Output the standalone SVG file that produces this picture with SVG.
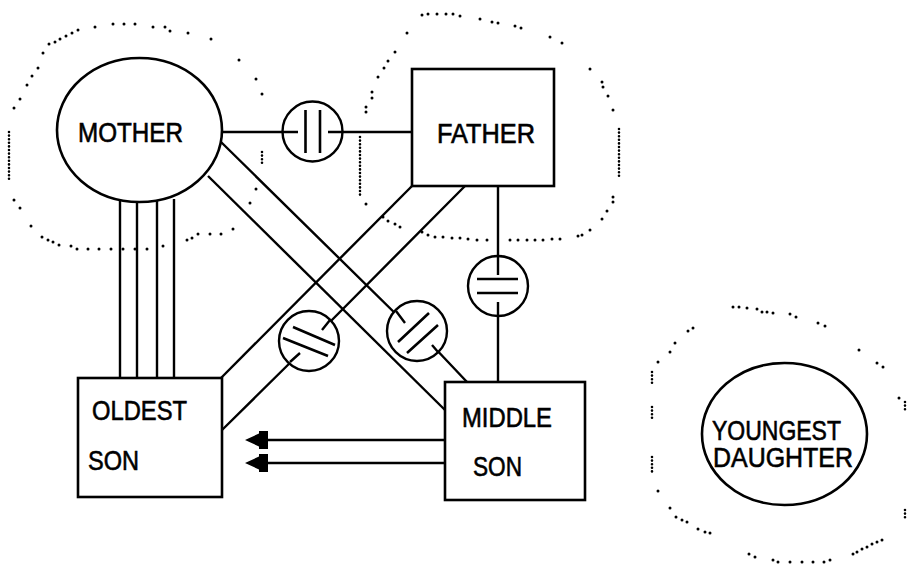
<svg xmlns="http://www.w3.org/2000/svg" width="907" height="564" viewBox="0 0 907 564">
<defs>
<style>
.shape{fill:#fff;stroke:#000;stroke-width:2.6}
.ln{fill:none;stroke:#000;stroke-width:2.4}
.cut{fill:#fff;stroke:#000;stroke-width:2.4}
.bar{stroke:#000;stroke-width:2.6;fill:none}
.lbl{font-family:"Liberation Sans","DejaVu Sans",Arial,sans-serif;font-size:27px;fill:#000;stroke:#000;stroke-width:0.6}
.dots{fill:none;stroke:#000;stroke-width:3;stroke-linecap:round}
.run{fill:none;stroke:#000;stroke-width:2.6;stroke-linecap:round;stroke-dasharray:0 3.6}
</style>
<marker id="ah" viewBox="0 0 23 18" refX="0" refY="9" markerWidth="23" markerHeight="18" markerUnits="userSpaceOnUse" orient="auto">
<path d="M23 9 L9 2.5 L9 0 L0 0 L0 18 L9 18 L9 15.5 Z" fill="#000"/>
</marker>
</defs>
<rect width="907" height="564" fill="#fff"/>

<g id="boundaries">
<path class="dots" d="M95 27h0M113 24h0M124 24h0M135 24h0M153 27h0M165 27h0M170 31h0M188 33h0M211 39h0M239 60h0M256 79h0M262 94h0M256 189h0M250 203h0M233 229h0M221 234h0M210 234h0M198 234h0M192 238h0M187 240h0M163 246h0M147 249h0M135 249h0M123 249h0M111 249h0M99 249h0M88 249h0M77 249h0M71 246h0M59 245h0M53 242h0M48 240h0M42 237h0M31 226h0M20 208h0M14 200h0M14 108h0M20 99h0M27 85h0M32 76h0M38 68h0M43 53h0M49 44h0M55 42h0M60 39h0M66 36h0M72 33h0M78 30h0"/>
<path class="run" d="M9 132V180M262 152V163"/>
<path class="dots" d="M407 33h0M422 15h0M428 14h0M437 14h0M446 14h0M453 14h0M460 16h0M480 19h0M492 22h0M498 23h0M515 26h0M521 28h0M550 37h0M562 43h0M590 69h0M602 82h0M603 87h0M608 96h0M613 110h0M613 197h0M613 202h0M607 211h0M602 219h0M590 230h0M582 235h0M578 236h0M560 239h0M552 239h0M543 240h0M535 240h0M527 240h0M518 240h0M510 240h0M487 240h0M477 240h0M468 239h0M460 238h0M452 238h0M443 237h0M435 237h0M428 235h0M422 232h0M400 227h0M395 224h0M388 221h0M383 217h0M366 204h0M366 112h0M366 107h0M372 98h0M372 92h0M378 77h0M384 68h0M388 61h0M395 52h0"/>
<path class="run" d="M619 129V177M360 137V197"/>
<path class="dots" d="M733 307h0M739 307h0M747 308h0M757 309h0M762 312h0M767 312h0M773 313h0M790 314h0M796 317h0M818 323h0M825 326h0M859 350h0M877 363h0M883 367h0M899 398h0M882 540h0M877 542h0M872 544h0M867 547h0M862 549h0M857 552h0M853 554h0M830 560h0M824 562h0M813 562h0M802 562h0M790 562h0M778 562h0M773 560h0M755 557h0M749 554h0M710 533h0M705 532h0M698 529h0M687 522h0M682 520h0M676 517h0M670 508h0M658 491h0M658 362h0M670 352h0M675 343h0M688 331h0M693 328h0"/>
<path class="run" d="M905 402V412M905 510V519M652 457V472M652 407V420M652 372V383"/>
</g>

<g id="connectors">
<!-- mother - father (cut-off) -->
<path class="ln" d="M221 132H298M328 132H412"/>
<circle class="cut" cx="312.5" cy="131.5" r="30"/>
<path class="ln" d="M282 132H298M328 132H343"/>
<path class="bar" d="M305.5 110V153M320 110V153"/>
<!-- father - middle son (cut-off) -->
<path class="ln" d="M498 186V275M498 302V382"/>
<circle class="cut" cx="498" cy="286" r="30"/>
<path class="ln" d="M498 256V275M498 302V316"/>
<path class="bar" d="M477 279H518M477 293H518"/>
<!-- mother - middle son top corner (cut-off) -->
<path class="ln" d="M221 142L405 323M432 345L467 382"/>
<!-- mother - middle son side -->
<path class="ln" d="M208 176L445 410"/>
<!-- father corner - oldest son corner -->
<path class="ln" d="M412 186L221 378"/>
<!-- father - oldest son side (cut-off) -->
<path class="ln" d="M465 186L322 330M300 353L221 431"/>
<circle class="cut" cx="417" cy="331" r="30"/>
<path class="ln" d="M396 311L405 323M432 345L438 352"/>
<path class="bar" d="M398 342L429 313M407 353L438 325"/>
<circle class="cut" cx="309" cy="341" r="30"/>
<path class="ln" d="M330 320L322 330M300 353L290 362"/>
<path class="bar" d="M293 327L335 345M283 338L328 356"/>
<!-- mother - oldest son (four lines) -->
<path class="ln" d="M120 199V378M137 200V378M157 200V378M174 199V378"/>
<!-- middle son -> oldest son arrows -->
<path class="ln" d="M445 440H268" marker-end="url(#ah)"/>
<path class="ln" d="M445 463H268" marker-end="url(#ah)"/>
</g>

<g id="mother">
<ellipse class="shape" cx="139.5" cy="130" rx="82.5" ry="72"/>
<text class="lbl" x="78" y="142" textLength="105" lengthAdjust="spacingAndGlyphs">MOTHER</text>
</g>
<g id="father">
<rect class="shape" x="412" y="69" width="142" height="117"/>
<text class="lbl" x="437" y="143" textLength="98" lengthAdjust="spacingAndGlyphs">FATHER</text>
</g>
<g id="oldest-son">
<rect class="shape" x="78" y="378" width="144" height="119"/>
<text class="lbl" x="92" y="420" textLength="95" lengthAdjust="spacingAndGlyphs">OLDEST</text>
<text class="lbl" x="88" y="470" textLength="51" lengthAdjust="spacingAndGlyphs">SON</text>
</g>
<g id="middle-son">
<rect class="shape" x="445" y="382" width="140" height="118"/>
<text class="lbl" x="462" y="427" textLength="90" lengthAdjust="spacingAndGlyphs">MIDDLE</text>
<text class="lbl" x="473" y="476" textLength="49" lengthAdjust="spacingAndGlyphs">SON</text>
</g>
<g id="youngest-daughter">
<ellipse class="shape" cx="784.5" cy="434" rx="82.5" ry="71"/>
<text class="lbl" x="712" y="440" textLength="129" lengthAdjust="spacingAndGlyphs">YOUNGEST</text>
<text class="lbl" x="713" y="467" textLength="140" lengthAdjust="spacingAndGlyphs">DAUGHTER</text>
</g>
</svg>
